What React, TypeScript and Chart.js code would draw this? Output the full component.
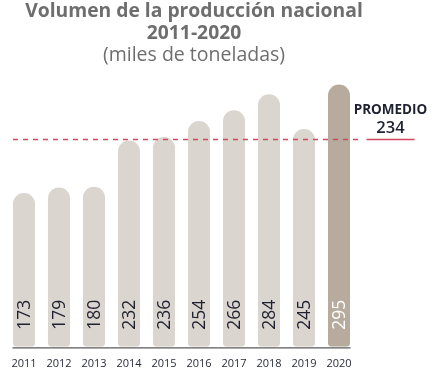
import React, { useEffect, useRef } from "react";
import { Chart, registerables } from "chart.js";

Chart.register(...registerables);

const years = ["2011", "2012", "2013", "2014", "2015", "2016", "2017", "2018", "2019", "2020"];
const values = [173, 179, 180, 232, 236, 254, 266, 284, 245, 295];
const average = 234;
const averageLabel = "PROMEDIO";
const titleLines = ["Volumen de la producción nacional", "2011-2020"];
const subtitle = "(miles de toneladas)";

const BAR = "#dbd5cf";
const BAR_HI = "#b6ab9c";
const RED = "#cf4a5b";
const DARK = "#1e2130";
const FONT = "'Open Sans', 'DejaVu Sans', sans-serif";

const overlay = {
  id: "overlay",
  afterDatasetsDraw(chart: any) {
    const ctx = chart.ctx;
    const meta = chart.getDatasetMeta(0);
    const y = chart.scales.y;
    const area = chart.chartArea;
    const base = y.getPixelForValue(0);
    const bars = meta.data;
    ctx.save();
    // axis line
    const first = bars[0];
    const last = bars[bars.length - 1];
    ctx.strokeStyle = "#5a5a5a";
    ctx.lineWidth = 1.3;
    ctx.beginPath();
    ctx.moveTo(first.x - first.width / 2 - 0.5, base + 1);
    ctx.lineTo(last.x + last.width / 2 + 0.5, base + 1);
    ctx.stroke();

    // bar labels
    ctx.font = `17.5px ${FONT}`;
    ctx.textAlign = "left";
    ctx.textBaseline = "middle";
    bars.forEach((b: any, i: number) => {
      ctx.save();
      ctx.translate(b.x, base - 17);
      ctx.rotate(-Math.PI / 2);
      ctx.fillStyle = i === bars.length - 1 ? "#ffffff" : DARK;
      ctx.fillText(String(values[i]), 0, 1);
      ctx.restore();
    });

    // average line
    const ay = Math.round(y.getPixelForValue(average)) + 0.5;
    ctx.strokeStyle = RED;
    ctx.lineWidth = 1.4;
    ctx.setLineDash([5, 5]);
    ctx.beginPath();
    ctx.moveTo(first.x - first.width / 2, ay);
    ctx.lineTo(area.right + 6, ay);
    ctx.stroke();
    ctx.setLineDash([]);
    ctx.beginPath();
    ctx.moveTo(area.right + 10, ay);
    ctx.lineTo(area.right + 58, ay);
    ctx.stroke();

    // average label
    const cx = area.right + 34;
    ctx.fillStyle = DARK;
    ctx.textAlign = "center";
    ctx.font = `bold 13.5px ${FONT}`;
    ctx.fillText(averageLabel, cx, ay - 29);
    ctx.font = `600 16.5px ${FONT}`;
    ctx.fillText(String(average), cx, ay - 11);

    // titles
    ctx.fillStyle = "#6e6e6e";
    ctx.font = `bold 19.3px ${FONT}`;
    ctx.fillText(titleLines[0], 194, 12);
    ctx.fillText(titleLines[1], 194, 34);
    ctx.font = `19.5px ${FONT}`;
    ctx.fillText(subtitle, 194, 55);
    ctx.restore();
  },
};

export default function App() {
  const ref = useRef<HTMLCanvasElement>(null);
  useEffect(() => {
    if (!ref.current) return;
    const chart = new Chart(ref.current, {
      type: "bar",
      data: {
        labels: years,
        datasets: [
          {
            data: values,
            backgroundColor: values.map((_, i) => (i === values.length - 1 ? BAR_HI : BAR)),
            borderWidth: 0,
            borderSkipped: false,
            borderRadius: { topLeft: 11, topRight: 11, bottomLeft: 4, bottomRight: 4 },
            barPercentage: 1,
            categoryPercentage: 0.63,
          },
        ],
      },
      options: {
        responsive: false,
        animation: false,
        layout: { padding: { left: 6.5, right: 87.5, top: 80, bottom: 7 } },
        plugins: { legend: { display: false }, tooltip: { enabled: false }, title: { display: false } },
        scales: {
          y: { display: false, min: 0, max: 300 },
          x: {
            grid: { display: false },
            border: { display: false },
            ticks: { color: "#2a2c3a", font: { size: 11, family: FONT }, padding: 2 },
          },
        },
      },
      plugins: [overlay],
    });
    return () => chart.destroy();
  }, []);
  return (
    <div style={{ position: "fixed", left: 0, top: 0, width: 444, height: 379, background: "#fff" }}>
      <canvas ref={ref} width={444} height={379} />
    </div>
  );
}
